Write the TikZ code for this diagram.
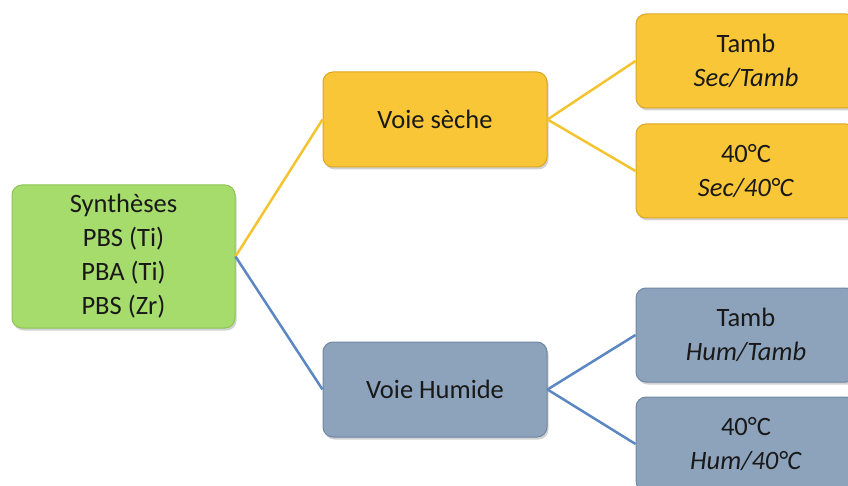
\documentclass[tikz,border=0pt]{standalone}
\usepackage{fontspec}
\setmainfont{Carlito}
\usetikzlibrary{shadows}
\definecolor{gfill}{HTML}{A6DC6C}
\definecolor{gdraw}{HTML}{8CC455}
\definecolor{yfill}{HTML}{F9C638}
\definecolor{ydraw}{HTML}{DDA624}
\definecolor{bfill}{HTML}{8DA2BB}
\definecolor{bdraw}{HTML}{7088A4}
\definecolor{yline}{HTML}{F4C430}
\definecolor{bline}{HTML}{5B87C2}
\tikzset{
  box/.style={rounded corners=10pt, line width=1pt, align=center, inner sep=0pt,
    font=\fontsize{26.5}{34}\selectfont, text=black!90,
    drop shadow={shadow xshift=1.5pt, shadow yshift=-2.5pt, opacity=0.35}},
  gbox/.style={box, fill=gfill, draw=gdraw},
  ybox/.style={box, fill=yfill, draw=ydraw},
  bbox/.style={box, fill=bfill, draw=bdraw},
  yconn/.style={draw=yline, line width=2.5pt},
  bconn/.style={draw=bline, line width=2.5pt}
}
\begin{document}
\begin{tikzpicture}[x=1pt,y=-1pt]
\useasboundingbox (0,0) rectangle (848,486);
\clip (0,0) rectangle (848,486);
\fill[white] (0,0) rectangle (848,486);
\node[gbox, minimum width=223pt, minimum height=143pt] (root) at (123.5,256.5)
  {Synthèses\\PBS (Ti)\\PBA (Ti)\\PBS (Zr)};
\node[ybox, minimum width=224pt, minimum height=95pt] (vs) at (435,119.5) {Voie sèche};
\node[bbox, minimum width=224pt, minimum height=95pt] (vh) at (435,389.5) {Voie Humide};
\node[ybox, minimum width=220pt, minimum height=94pt] (st) at (746,61) {Tamb\\\textit{Sec/Tamb}};
\node[ybox, minimum width=220pt, minimum height=94pt] (s4) at (746,171) {40°C\\\textit{Sec/40°C}};
\node[bbox, minimum width=220pt, minimum height=94pt] (ht) at (746,335) {Tamb\\\textit{Hum/Tamb}};
\node[bbox, minimum width=220pt, minimum height=94pt] (h4) at (746,444) {40°C\\\textit{Hum/40°C}};
\draw[yconn] (root.east) -- (vs.west);
\draw[bconn] (root.east) -- (vh.west);
\draw[yconn] (vs.east) -- (st.west);
\draw[yconn] (vs.east) -- (s4.west);
\draw[bconn] (vh.east) -- (ht.west);
\draw[bconn] (vh.east) -- (h4.west);
\end{tikzpicture}
\end{document}
